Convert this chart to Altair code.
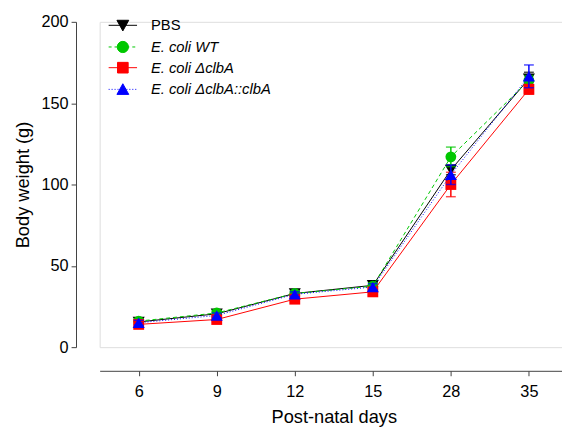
import altair as alt
import pandas as pd

# ---- data ----
days = ["6", "9", "12", "15", "28", "35"]
groups = ["PBS", "E. coli WT", "E. coli ΔclbA", "E. coli ΔclbA::clbA"]
pbs_mean = [15.5, 20.5, 33.0, 38.0, 109.0, 165.0]
pbs_sem = [1.5, 1.5, 1.5, 2.0, 3.0, 4.0]
wt_mean = [16.0, 21.0, 33.0, 37.5, 117.0, 164.0]
wt_sem = [1.5, 1.5, 1.5, 2.0, 6.0, 3.0]
dclba_mean = [14.0, 17.0, 29.5, 34.0, 100.0, 158.5]
dclba_sem = [1.5, 1.5, 1.5, 2.0, 7.5, 3.0]
comp_mean = [15.0, 19.5, 32.5, 37.0, 106.0, 166.5]
comp_sem = [1.5, 1.5, 1.5, 2.0, 6.0, 7.0]

means = [pbs_mean, wt_mean, dclba_mean, comp_mean]
sems = [pbs_sem, wt_sem, dclba_sem, comp_sem]

rows = []
for g, m, s in zip(groups, means, sems):
    for d, mv, sv in zip(days, m, s):
        rows.append({"day": d, "group": g, "mean": mv, "lo": mv - sv, "hi": mv + sv})
df = pd.DataFrame(rows)

FONT = "Liberation Sans"
colors = ["#000000", "#00C800", "#FF0000", "#0000FF"]
shapes = ["triangle-down", "circle", "square", "triangle-up"]
sizes = [150, 120, 121, 150]
dashes = [None, [4, 3], None, [1, 2]]


# legend symbols: line + marker as custom paths (unit = sqrt(size)/2 px)
def line_path(style):
    if style is None:
        return "M-2.4,0H2.4"
    on, off = style
    parts = []
    x = -2.4
    while x < 2.4:
        parts.append("M%.3f,0H%.3f" % (x, min(x + on, 2.4)))
        x += on + off
    return "".join(parts)


markers = [
    "M-1,-0.85L1,-0.85L0,0.95Z",
    "M-0.95,0A0.95,0.95 0 1,0 0.95,0A0.95,0.95 0 1,0 -0.95,0Z",
    "M-0.9,-0.9H0.9V0.9H-0.9Z",
    "M-1,0.85L1,0.85L0,-0.95Z",
]
leg_styles = [None, (0.5, 0.5), None, (0.17, 0.33)]
paths = [line_path(s) + mk for s, mk in zip(leg_styles, markers)]

xscale = alt.Scale(type="point", domain=days, range=[0, 475], padding=0.5)
xaxis = alt.Axis(
    title="Post-natal days", offset=24, labelAngle=0,
    domainColor="#404040", tickColor="#404040", tickSize=5,
    labelFontSize=16.5, labelFont=FONT, labelColor="black", labelPadding=8,
    titleFontSize=18.5, titleFont=FONT, titleFontWeight="normal", titleColor="black",
    titlePadding=8, grid=False,
)
yscale = alt.Scale(domain=[0, 200], nice=False, zero=True)
yaxis = alt.Axis(
    title="Body weight (g)", offset=24, values=[0, 50, 100, 150, 200],
    domainColor="#404040", tickColor="#404040", tickSize=5,
    labelFontSize=16.5, labelFont=FONT, labelColor="black", labelPadding=3,
    titleFontSize=18.5, titleFont=FONT, titleFontWeight="normal", titleColor="black",
    titlePadding=9, grid=False,
)

X = alt.X("day:N", sort=days, scale=xscale, axis=xaxis)

layers = []
for g, c, sh, sz, da in zip(groups, colors, shapes, sizes, dashes):
    base = alt.Chart(df).transform_filter(alt.datum.group == g)
    layers.append(
        base.mark_rule(color=c, strokeWidth=1.5).encode(
            x=X, y=alt.Y("lo:Q", scale=yscale, axis=yaxis), y2="hi:Q"
        )
    )
    for f in ["hi", "lo"]:
        layers.append(
            base.mark_tick(color=c, size=10, thickness=1.5).encode(
                x=X, y=alt.Y(f + ":Q", scale=yscale, axis=yaxis)
            )
        )
    lk = dict(color=c, strokeWidth=1)
    if da is not None:
        lk["strokeDash"] = da
    layers.append(
        base.mark_line(**lk).encode(x=X, y=alt.Y("mean:Q", scale=yscale, axis=yaxis))
    )
    layers.append(
        base.mark_point(shape=sh, filled=True, color=c, size=sz, opacity=1).encode(
            x=X, y=alt.Y("mean:Q", scale=yscale, axis=yaxis)
        )
    )

leg = alt.Legend(
    title=None, orient="none", legendX=16, legendY=-4, padding=0,
    symbolSize=144, symbolStrokeWidth=1, symbolOpacity=1,
    labelFontSize=15, labelFont=FONT, labelColor="black", labelOffset=21,
    rowPadding=5,
    labelFontStyle=alt.ExprRef(expr="datum.label == 'PBS' ? 'normal' : 'italic'"),
)
leg_df = pd.DataFrame({"group": groups})
legend_layer = alt.Chart(leg_df).mark_point(filled=True, opacity=0, size=144).encode(
    fill=alt.Fill("group:N", sort=groups, scale=alt.Scale(domain=groups, range=colors), legend=leg),
    stroke=alt.Stroke("group:N", sort=groups, scale=alt.Scale(domain=groups, range=colors), legend=leg),
    shape=alt.Shape("group:N", sort=groups, scale=alt.Scale(domain=groups, range=paths), legend=leg),
)

chart = alt.layer(*layers, legend_layer).properties(
    width=469, height=330,
    autosize=alt.AutoSizeParams(type="none"),
    padding={"left": 93, "top": 11, "right": 0, "bottom": 81},
).configure_view(stroke=None).configure(background="white")

chart.save("out.html", embed_options={"renderer": "svg", "actions": False})
